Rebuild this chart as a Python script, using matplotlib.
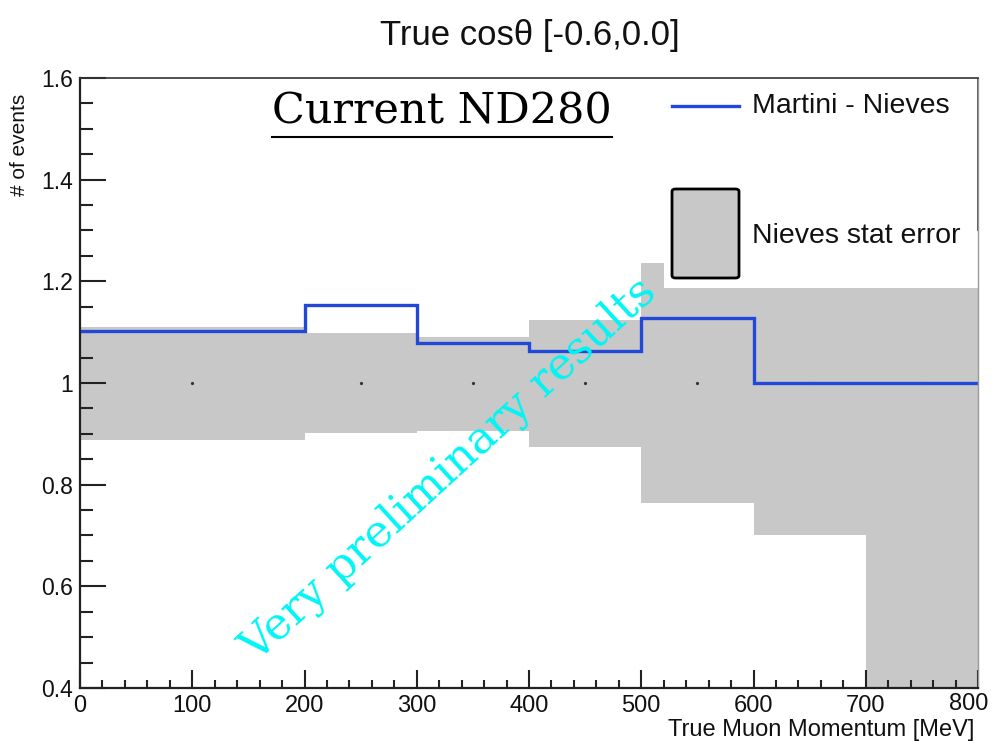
import matplotlib
matplotlib.use("Agg")
import matplotlib.pyplot as plt
from matplotlib.lines import Line2D
from matplotlib.patches import Rectangle, FancyBboxPatch
from matplotlib.ticker import MultipleLocator

# Bin edges of the true muon momentum [MeV]
edges = [0, 200, 300, 400, 500, 600, 700, 800]
# Martini - Nieves ratio per bin
martini_nieves = [1.103, 1.153, 1.079, 1.062, 1.128, 1.0, 1.0]
# Nieves statistical error band (upper / lower edge per bin)
err_upper = [1.110, 1.098, 1.090, 1.124, 1.236, 1.187, 1.187]
err_lower = [0.888, 0.901, 0.906, 0.875, 0.763, 0.701, 0.300]
# Nieves central markers (bin centres, value)
marker_x = [100, 250, 350, 450, 550, 650, 750]
marker_y = [1.0, 1.0, 1.0, 1.0, 1.0, 1.0, 1.0]

x_ticks = [0, 100, 200, 300, 400, 500, 600, 700, 800]
y_ticks = [0.4, 0.6, 0.8, 1.0, 1.2, 1.4, 1.6]
y_ticklabels = ["0.4", "0.6", "0.8", "1", "1.2", "1.4", "1.6"]

title = "True cos\u03b8 [-0.6,0.0]"
xlabel = "True Muon Momentum [MeV]"
ylabel = "# of events"
legend_labels = ["Martini - Nieves", "Nieves stat error"]

BLUE = "#2148d6"
GREY = "#c8c8c8"
SANS = ["Liberation Sans", "DejaVu Sans"]
SERIF = ["DejaVu Serif"]

fig = plt.figure(figsize=(9.97, 7.41), dpi=100)
ax = fig.add_axes([80 / 997, 1 - 688 / 741, 898 / 997, 610 / 741])

ax.stairs(err_upper, edges, baseline=err_lower, fill=True,
          color=GREY, linewidth=0, zorder=1)
ax.stairs(martini_nieves, edges, baseline=None, color=BLUE, linewidth=2.4,
          zorder=3)
ax.plot(marker_x, marker_y, linestyle="none", marker="o",
        markersize=1.3, color="#333333", zorder=2)

ax.set_xlim(0, 800)
ax.set_ylim(0.4, 1.6)
# the last momentum label is drawn separately, pulled inside the canvas
ax.set_xticks(x_ticks, [str(v) for v in x_ticks[:-1]] + [""])
ax.xaxis.set_minor_locator(MultipleLocator(20))
ax.set_yticks(y_ticks, y_ticklabels)
ax.yaxis.set_minor_locator(MultipleLocator(0.05))

ax.tick_params(axis="both", which="both", direction="in", top=False,
               right=False, width=1.5, color="#222222")
ax.tick_params(axis="x", which="major", length=13, pad=5)
ax.tick_params(axis="x", which="minor", length=6)
ax.tick_params(axis="y", which="major", length=19, pad=5)
ax.tick_params(axis="y", which="minor", length=9.5)
for lab in ax.get_xticklabels():
    lab.set_fontfamily(SANS)
    lab.set_fontsize(17)
    lab.set_color("#111111")
for lab in ax.get_yticklabels():
    lab.set_fontfamily(SANS)
    lab.set_fontsize(16.5)
    lab.set_color("#111111")
ax.annotate(str(x_ticks[-1]), xy=(x_ticks[-1], 0.4), xycoords="data",
            xytext=(-7, -3.6), textcoords="offset points", ha="center",
            va="top", fontsize=17, family=SANS, color="#111111",
            annotation_clip=False)

for side in ("left", "bottom"):
    ax.spines[side].set_linewidth(1.6)
    ax.spines[side].set_color("#222222")
ax.spines["top"].set_linewidth(1.2)
ax.spines["top"].set_color("#333333")
ax.spines["right"].set_linewidth(1.0)
ax.spines["right"].set_color("#9a9a9a")
for s in ax.spines.values():
    s.set_zorder(6)

# Legend block
lx0 = 584 / 898
ly0 = (688 - 288) / 610
ax.add_patch(Rectangle((lx0, ly0), 1 - lx0, 1 - ly0, transform=ax.transAxes,
                       facecolor="white", edgecolor="none", zorder=4))
ax.add_line(Line2D([1, 1], [(688 - 230) / 610, 1], transform=ax.transAxes,
                   color="#333333", linewidth=1.2, zorder=5))
ax.add_line(Line2D([592 / 898, 659 / 898], [(688 - 106) / 610] * 2,
                   transform=ax.transAxes, color=BLUE, linewidth=2.4, zorder=5))
ax.add_patch(FancyBboxPatch((592 / 898, (688 - 278) / 610),
                            67 / 898, 89 / 610,
                            boxstyle="round,pad=0,rounding_size=0.004",
                            transform=ax.transAxes, facecolor=GREY,
                            edgecolor="black", linewidth=2.0, zorder=5))
ax.text(672 / 898, (688 - 106) / 610, legend_labels[0], transform=ax.transAxes,
        ha="left", va="center", fontsize=20.5, family=SANS, color="#111111",
        zorder=5)
ax.text(672 / 898, (688 - 236) / 610, legend_labels[1], transform=ax.transAxes,
        ha="left", va="center", fontsize=20.5, family=SANS, color="#111111",
        zorder=5)

# Titles and axis labels
fig.text(530 / 997, 1 - 35 / 741, title, ha="center", va="center",
         fontsize=25, family=SANS, color="#111111")
fig.text(974 / 997, 1 - 730 / 741, xlabel, ha="right", va="center",
         fontsize=17, family=SANS, color="#111111")
fig.text(20 / 997, 1 - 94 / 741, ylabel, ha="center", va="top",
         rotation=90, fontsize=15, family=SANS, color="#111111")

# Header label with underline
hdr = fig.text(442 / 997, 1 - 112 / 741, "Current ND280", ha="center",
               va="center", fontsize=31, family=SERIF, color="black")
fig.canvas.draw()
bb = hdr.get_window_extent(renderer=fig.canvas.get_renderer())
fig.add_artist(Line2D([bb.x0 / 997, bb.x1 / 997],
                      [1 - 137 / 741, 1 - 137 / 741],
                      transform=fig.transFigure, color="black", linewidth=1.5))

# Watermark
ax.text((449 - 80) / 898, (688 - 470) / 610, "Very preliminary results",
        transform=ax.transAxes, ha="center", va="center", rotation=42.5,
        rotation_mode="anchor", fontsize=32, family=SERIF, color="#00f5f5",
        zorder=7)

fig.savefig("out.png", dpi=100)
